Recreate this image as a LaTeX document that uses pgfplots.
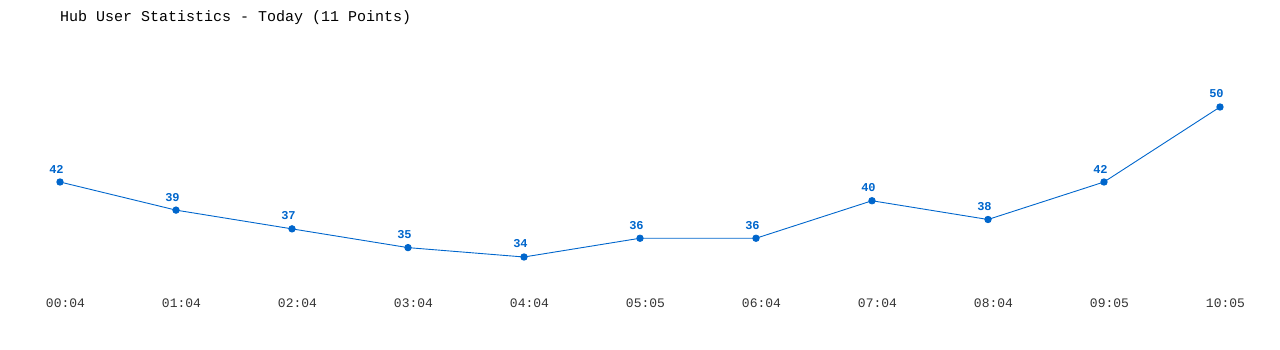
\documentclass[border=0pt]{standalone}
\usepackage{fontspec}
\setmainfont{Liberation Mono}
\usepackage{pgfplots}
\pgfplotsset{compat=1.18}
\definecolor{lineblue}{HTML}{0066CC}
\definecolor{ticktext}{HTML}{333333}
\begin{document}
\begin{tikzpicture}[x=1pt,y=1pt]
\path[use as bounding box] (0,0) rectangle (1280,350);
\node[anchor=west,font=\fontsize{15}{17}\selectfont,text=black,inner sep=0pt] at (60,332) {Hub User Statistics - Today (11 Points)};
\begin{axis}[
  at={(60pt,60pt)}, anchor=south west,
  scale only axis, width=1160pt, height=250pt,
  xmin=0, xmax=10, ymin=30.48, ymax=57.147,
  axis line style={draw=none},
  major tick length=0pt,
  clip=false,
  xtick={0,...,10},
  xticklabels={00:04,01:04,02:04,03:04,04:04,05:05,06:04,07:04,08:04,09:05,10:05},
  xticklabel style={font=\fontsize{13}{15}\selectfont, text=ticktext, anchor=center, yshift=-13pt, xshift=5.5pt},
  ytick=\empty,
  /pgf/number format/assume math mode=true,
  nodes near coords,
  every node near coord/.append style={font=\fontsize{12}{14}\selectfont\bfseries, text=lineblue, anchor=center, yshift=13pt, xshift=-3.5pt},
]
\addplot[color=lineblue, line width=0.9pt, mark=*, mark size=3.2pt, mark options={fill=lineblue, draw=lineblue}] coordinates {
 (0,42) (1,39) (2,37) (3,35) (4,34) (5,36) (6,36) (7,40) (8,38) (9,42) (10,50)
};
\end{axis}
\end{tikzpicture}
\end{document}
